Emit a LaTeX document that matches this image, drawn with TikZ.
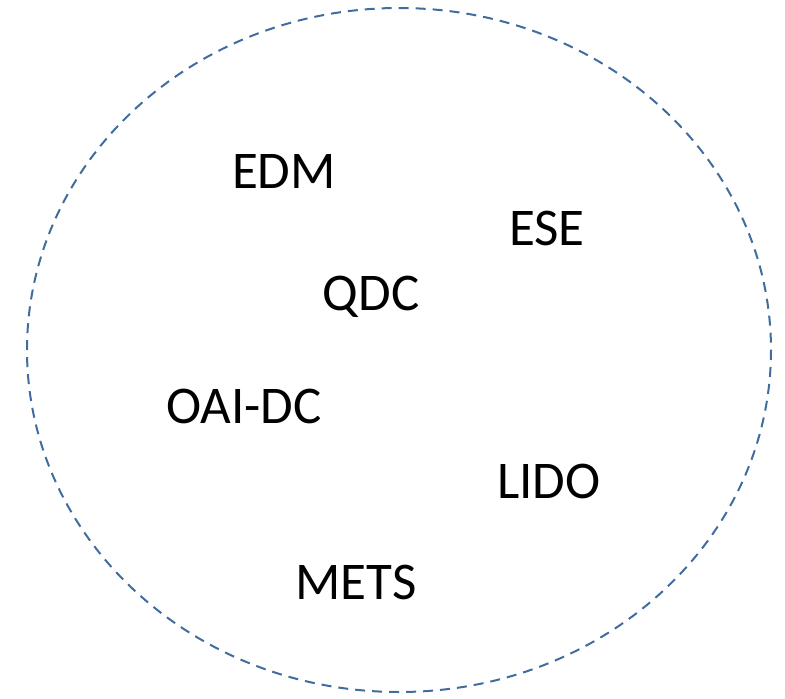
\documentclass[tikz,border=0pt]{standalone}
\usepackage{fontspec}
\setmainfont{Carlito}
\definecolor{ringblue}{RGB}{65,108,158}
\begin{document}
\begin{tikzpicture}[x=1pt,y=-1pt,
  lbl/.style={font=\fontsize{53}{60}\selectfont, inner sep=0pt, text=black},
  ring/.style={draw=ringblue, line width=2pt, dash pattern=on 10pt off 7pt}]
\useasboundingbox (0,0) rectangle (785,699);
\draw[ring] (399,350) ellipse [x radius=372, y radius=342];
\node[lbl] (edm) at (284,171) {EDM};
\node[lbl] (ese) at (547,228) {ESE};
\node[lbl] (qdc) at (371,297) {QDC};
\node[lbl] (oai) at (244,406) {OAI-DC};
\node[lbl] (lido) at (549,481) {LIDO};
\node[lbl] (mets) at (356,582) {METS};
\end{tikzpicture}
\end{document}
